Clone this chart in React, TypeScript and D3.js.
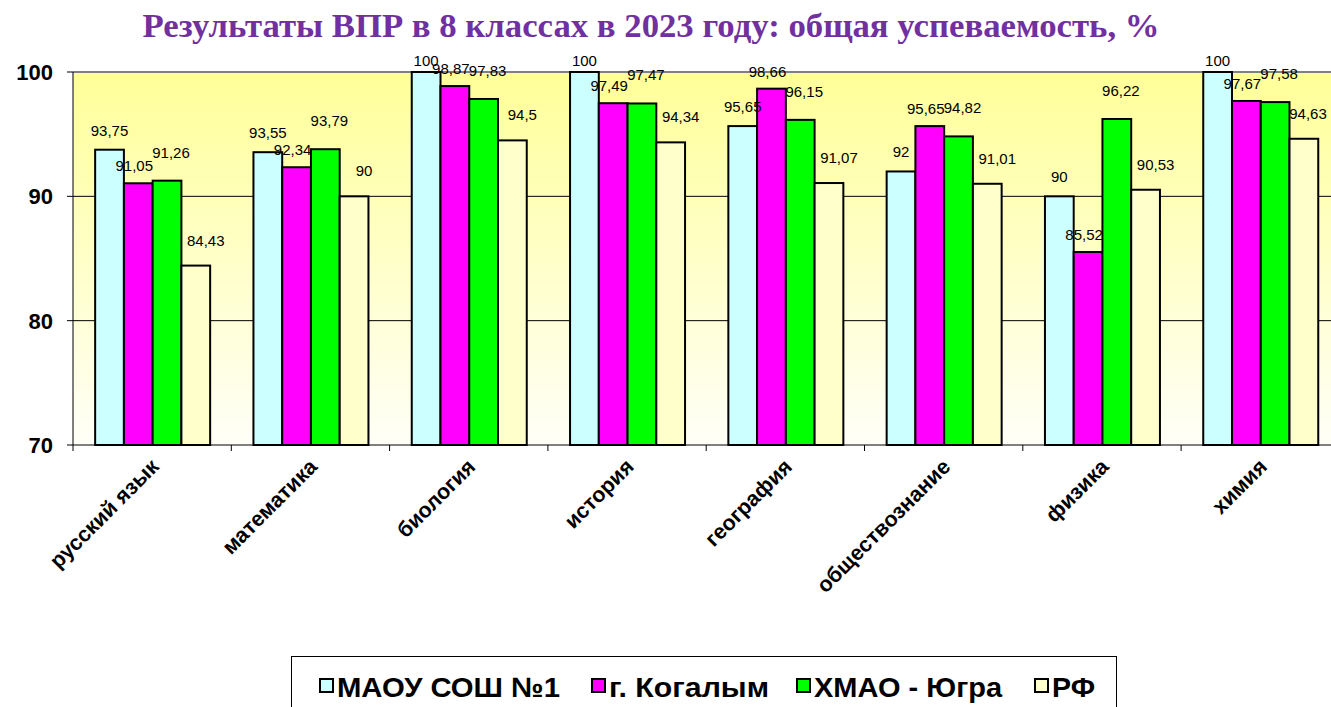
import React from "react";
import * as d3 from "d3";

const categories = ["русский язык", "математика", "биология", "история", "география", "обществознание", "физика", "химия"];
const seriesNames = ["МАОУ СОШ №1", "г. Когалым", "ХМАО - Югра", "РФ"];
const school = [93.75, 93.55, 100, 100, 95.65, 92, 90, 100];
const city = [91.05, 92.34, 98.87, 97.49, 98.66, 95.65, 85.52, 97.67];
const region = [91.26, 93.79, 97.83, 97.47, 96.15, 94.82, 96.22, 97.58];
const russia = [84.43, 90, 94.5, 94.34, 91.07, 91.01, 90.53, 94.63];
const yTicks = [70, 80, 90, 100];
const colors = ["#CCFFFF", "#FF00FF", "#00FF00", "#FFFFCC"];

const series = [school, city, region, russia];
const fmt = (v: number) => String(v).replace(".", ",");

export default function App() {
  const W = 1331, H = 707;
  const left = 73, top = 72, bottom = 445;
  const groupW = 158.3;
  const right = left + groupW * categories.length;
  const x0 = d3.scaleBand<string>().domain(categories).range([left, right]).paddingInner(0).paddingOuter(0);
  const inner = 115;
  const x1 = d3.scaleBand<number>().domain([0, 1, 2, 3]).range([0, inner]);
  const off = (groupW - inner) / 2 + 0.5;
  const y = d3.scaleLinear().domain([70, 100]).range([bottom, top]);
  const legendX = [320, 592, 797, 1035];
  const legendW = [223, 160, 188, 43];
  const labelDx = [0, -4, 4, 10];
  const labelDy = [-14, -12, -23, -20];

  return (
    <svg width={W} height={H} style={{ position: "absolute", left: 0, top: 0, background: "#fff" }}>
      <defs>
        <linearGradient id="bg" x1="0" y1="0" x2="0" y2="1">
          <stop offset="0" stopColor="#FFFF99" />
          <stop offset="0.5" stopColor="#FFFFC8" />
          <stop offset="1" stopColor="#FFFFF8" />
        </linearGradient>
      </defs>
      <text x={651} y={37} textAnchor="middle" fontFamily="'Liberation Serif', 'Times New Roman', serif" fontWeight="bold" fontSize={34.5} fill="#7030A0" textLength={1017} lengthAdjust="spacingAndGlyphs">
        Результаты ВПР в 8 классах в 2023 году: общая успеваемость, %
      </text>
      <rect x={left} y={top} width={right - left} height={bottom - top} fill="url(#bg)" />
      <line x1={left} x2={right} y1={top} y2={top} stroke="#808080" strokeWidth={2} />
      {yTicks.filter(t => t !== 70 && t !== 100).map(t => (
        <line key={t} x1={left} x2={right} y1={y(t)} y2={y(t)} stroke="#000" strokeWidth={1} />
      ))}
      {categories.map((c, ci) => (
        <g key={c}>
          {series.map((s, si) => {
            const bx = (x0(c) as number) + off + (x1(si) as number);
            const bw = x1.bandwidth();
            const by = y(s[ci]);
            return (
              <rect key={si} x={bx} y={by} width={bw} height={bottom - by} fill={colors[si]} stroke="#000" strokeWidth={2} />
            );
          })}
        </g>
      ))}
      {categories.map((c, ci) => (
        <g key={c + "l"}>
          {series.map((s, si) => {
            const bx = (x0(c) as number) + off + (x1(si) as number);
            const bw = x1.bandwidth();
            const by = y(s[ci]);
            const ly = Math.max(66, by + labelDy[si]);
            const lx = Math.min(W - 23, bx + bw / 2 + labelDx[si]);
            return (
              <text key={si} x={lx} y={ly} textAnchor="middle" fontFamily="'Liberation Sans', Arial, sans-serif" fontSize={15} fill="#000">
                {fmt(s[ci])}
              </text>
            );
          })}
        </g>
      ))}
      <line x1={left} x2={left} y1={top} y2={bottom} stroke="#000" strokeWidth={1} />
      <line x1={left} x2={right} y1={bottom} y2={bottom} stroke="#000" strokeWidth={1} />
      {yTicks.map(t => (
        <g key={t}>
          <line x1={left - 6} x2={left} y1={y(t)} y2={y(t)} stroke="#000" />
          <text x={53} y={y(t) + 8} textAnchor="end" fontFamily="'Liberation Sans', Arial, sans-serif" fontWeight="bold" fontSize={22}>
            {t}
          </text>
        </g>
      ))}
      {d3.range(categories.length + 1).map(i => (
        <line key={i} x1={left + i * groupW} x2={left + i * groupW} y1={bottom} y2={bottom + 6} stroke="#000" />
      ))}
      {categories.map(c => {
        const cx = (x0(c) as number) + groupW / 2 + 8;
        const cy = bottom + 23;
        return (
          <text key={c} transform={`translate(${cx},${cy}) rotate(-45)`} textAnchor="end" fontFamily="'Liberation Sans', Arial, sans-serif" fontWeight="bold" fontSize={21.5}>
            {c}
          </text>
        );
      })}
      <rect x={291.5} y={656.5} width={825} height={60} fill="#fff" stroke="#000" strokeWidth={1} />
      {seriesNames.map((n, i) => {
        const lx = legendX[i];
        return (
          <g key={n}>
            <rect x={lx} y={679} width={13} height={13} fill={colors[i]} stroke="#000" strokeWidth={2} />
            <text x={lx + 17} y={697} fontFamily="'Liberation Sans', Arial, sans-serif" fontWeight="bold" fontSize={28} textLength={legendW[i]} lengthAdjust="spacingAndGlyphs">
              {n}
            </text>
          </g>
        );
      })}
    </svg>
  );
}
